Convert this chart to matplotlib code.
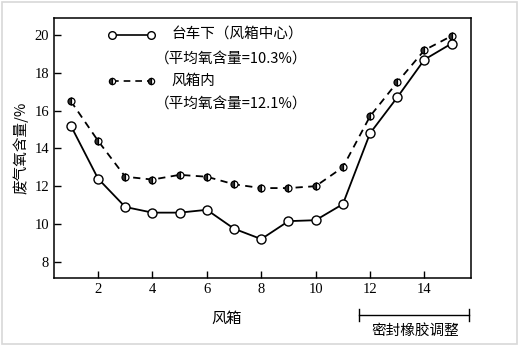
import matplotlib
matplotlib.use("Agg")
import matplotlib.pyplot as plt
from matplotlib.patches import Rectangle

plt.rcParams['font.family'] = ['Liberation Serif', 'Noto Sans CJK SC']

# 风箱号
boxes = list(range(1, 16))
# 台车下（风箱中心）
o2_under = [15.2, 12.4, 10.9, 10.6, 10.6, 10.75, 9.75, 9.2, 10.15, 10.2, 11.05, 14.8, 16.7, 18.7, 19.55]
# 风箱内
o2_inside = [16.5, 14.4, 12.5, 12.35, 12.6, 12.5, 12.1, 11.9, 11.9, 12.0, 13.0, 15.7, 17.5, 19.2, 19.95]

xticks = [2, 4, 6, 8, 10, 12, 14]
yticks = [8, 10, 12, 14, 16, 18, 20]

fig = plt.figure(figsize=(5.19, 3.46), dpi=100)
fig.patches.append(Rectangle((0.003, 0.005), 0.994, 0.99, transform=fig.transFigure,
                             fill=False, edgecolor='#d8d8d8', lw=1.2))
ax = fig.add_axes([0.104, 0.197, 0.804, 0.751])

ax.plot(boxes, o2_inside, color='black', lw=1.3, ls=(0, (4, 3)),
        marker='o', ms=5, mfc='#333333', mfcalt='white', fillstyle='left',
        mec='black', mew=0.9)
ax.plot(boxes, o2_under, color='black', lw=1.3, ls='-',
        marker='o', ms=6.5, mfc='white', mec='black', mew=1.0)

ax.set_xlim(0.38, 15.72)
ax.set_ylim(7.15, 20.9)
ax.set_xticks(xticks)
ax.set_yticks(yticks)
ax.tick_params(direction='in', length=5, width=1, labelsize=10.5, top=False, right=False)
for s in ax.spines.values():
    s.set_linewidth(1.1)

cjk = ['Noto Sans CJK SC', 'Liberation Serif']
ax.set_ylabel('废气氧含量/%', fontsize=10.5, family=cjk, labelpad=4)
fig.text(0.437, 0.08, '风箱', fontsize=11, family=cjk, ha='center', va='center')

# 图例
ax.plot([2.5, 3.95], [20.0, 20.0], color='black', lw=1.2, marker='o', ms=5.5,
        mfc='white', mec='black', mew=1.0, clip_on=False)
ax.text(4.7, 20.0, '台车下（风箱中心）', fontsize=10.5, family=cjk, va='center')
ax.text(4.1, 18.7, '（平均氧含量=10.3%）', fontsize=10.5, family=cjk, va='center')
ax.plot([2.5, 3.95], [17.55, 17.55], color='black', lw=1.2, ls=(0, (4, 3)),
        marker='o', ms=4.5, mfc='#333333', mfcalt='white', fillstyle='left',
        mec='black', mew=0.9)
ax.text(4.7, 17.55, '风箱内', fontsize=10.5, family=cjk, va='center')
ax.text(4.1, 16.3, '（平均氧含量=12.1%）', fontsize=10.5, family=cjk, va='center')

# 密封橡胶调整区间
y_br = 0.09
fig.lines.append(plt.Line2D([0.692, 0.904], [y_br, y_br], color='black', lw=1, transform=fig.transFigure))
for xb in (0.692, 0.904):
    fig.lines.append(plt.Line2D([xb, xb], [y_br - 0.018, y_br + 0.018], color='black', lw=1, transform=fig.transFigure))
fig.text(0.8, 0.045, '密封橡胶调整', fontsize=10.5, family=cjk, ha='center', va='center')

fig.savefig('out.png', dpi=100)
